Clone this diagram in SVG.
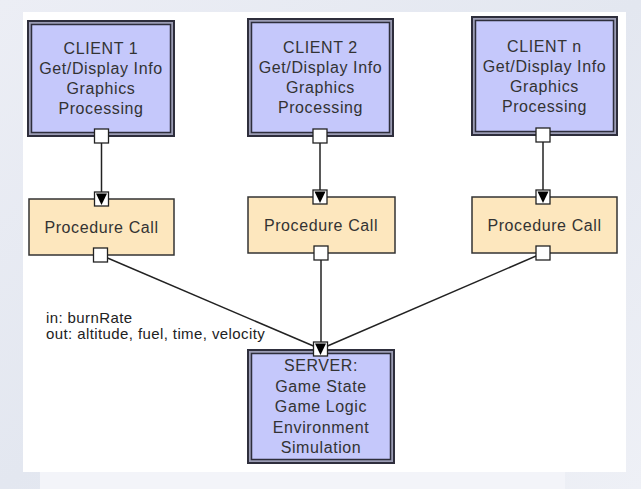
<svg xmlns="http://www.w3.org/2000/svg" width="641" height="489" viewBox="0 0 641 489">
<defs>
<linearGradient id="bg" x1="0" y1="0" x2="1" y2="1">
<stop offset="0" stop-color="#eceef5"/>
<stop offset="0.5" stop-color="#e3e7f0"/>
<stop offset="1" stop-color="#eef0f6"/>
</linearGradient>
</defs>
<style>
.outer{fill:#9b9cb4;stroke:#2e2e3c;stroke-width:2}
.inner{fill:#c5c8fb;stroke:#2e2e3c;stroke-width:1.5}
.proc{fill:#fde7be;stroke:#333;stroke-width:1.5}
.port{fill:#fff;stroke:#222;stroke-width:1.3}
.arr{fill:#000}
.t{font-family:"Liberation Sans",Arial,sans-serif;font-size:16px;letter-spacing:0.6px;fill:#333;text-anchor:middle}
.lbl{font-family:"Liberation Sans",Arial,sans-serif;font-size:15px;letter-spacing:0.4px;fill:#222}
.ln{stroke:#222;stroke-width:1.5;fill:none}
</style>
<rect x="0" y="0" width="641" height="489" fill="url(#bg)"/>
<rect x="23" y="12" width="603" height="460" fill="#fff"/>
<rect x="40" y="472" width="525" height="17" fill="#f3f4f9"/>

<g id="connectors">
<line class="ln" x1="101.5" y1="143" x2="101.5" y2="196"/>
<line class="ln" x1="320" y1="143" x2="320" y2="194"/>
<line class="ln" x1="543" y1="142" x2="543" y2="194"/>
<line class="ln" x1="100.5" y1="255" x2="320.5" y2="349"/>
<line class="ln" x1="321" y1="253" x2="321" y2="346"/>
<line class="ln" x1="543" y1="253" x2="320.5" y2="349"/>
</g>

<g id="client1">
<rect class="outer" x="28" y="21" width="146" height="115"/>
<rect class="inner" x="31.5" y="24.5" width="139" height="108"/>
<text class="t" x="101" y="54">CLIENT 1</text>
<text class="t" x="101" y="74">Get/Display Info</text>
<text class="t" x="101" y="94">Graphics</text>
<text class="t" x="101" y="114">Processing</text>
<rect class="port" x="94.5" y="129" width="14" height="14"/>
</g>

<g id="client2">
<rect class="outer" x="248" y="19" width="145" height="117"/>
<rect class="inner" x="251.5" y="22.5" width="138" height="110"/>
<text class="t" x="320.5" y="53">CLIENT 2</text>
<text class="t" x="320.5" y="73">Get/Display Info</text>
<text class="t" x="320.5" y="93">Graphics</text>
<text class="t" x="320.5" y="113">Processing</text>
<rect class="port" x="313" y="129" width="14" height="14"/>
</g>

<g id="clientn">
<rect class="outer" x="472" y="17" width="145" height="118"/>
<rect class="inner" x="475.5" y="20.5" width="138" height="111"/>
<text class="t" x="544.5" y="52">CLIENT n</text>
<text class="t" x="544.5" y="72">Get/Display Info</text>
<text class="t" x="544.5" y="92">Graphics</text>
<text class="t" x="544.5" y="112">Processing</text>
<rect class="port" x="536" y="128" width="14" height="14"/>
</g>

<g id="proc1">
<rect class="proc" x="29" y="199" width="145" height="56"/>
<text class="t" x="101.5" y="233">Procedure Call</text>
<rect class="port" x="94.5" y="192" width="14" height="14"/>
<polygon class="arr" points="96,193.5 107,193.5 101.5,205"/>
<rect class="port" x="93.5" y="248" width="14" height="14"/>
</g>

<g id="proc2">
<rect class="proc" x="248" y="197" width="147" height="56"/>
<text class="t" x="321" y="231">Procedure Call</text>
<rect class="port" x="313" y="190" width="14" height="14"/>
<polygon class="arr" points="314.5,191.5 325.5,191.5 320,203"/>
<rect class="port" x="314" y="246" width="14" height="14"/>
</g>

<g id="procn">
<rect class="proc" x="472" y="197" width="145" height="56"/>
<text class="t" x="544.5" y="231">Procedure Call</text>
<rect class="port" x="536" y="190" width="14" height="14"/>
<polygon class="arr" points="537.5,191.5 548.5,191.5 543,203"/>
<rect class="port" x="536" y="246" width="14" height="14"/>
</g>

<g id="server">
<rect class="outer" x="248" y="350" width="146" height="113"/>
<rect class="inner" x="251.5" y="353.5" width="139" height="106"/>
<text class="t" x="321" y="371">SERVER:</text>
<text class="t" x="321" y="391.5">Game State</text>
<text class="t" x="321" y="412">Game Logic</text>
<text class="t" x="321" y="432.5">Environment</text>
<text class="t" x="321" y="453">Simulation</text>
<rect class="port" x="313.5" y="342" width="14" height="14"/>
<polygon class="arr" points="315,343.5 326,343.5 320.5,355"/>
</g>

<g id="label">
<text class="lbl" x="46" y="323">in: burnRate</text>
<text class="lbl" x="46" y="339">out: altitude, fuel, time, velocity</text>
</g>
</svg>
